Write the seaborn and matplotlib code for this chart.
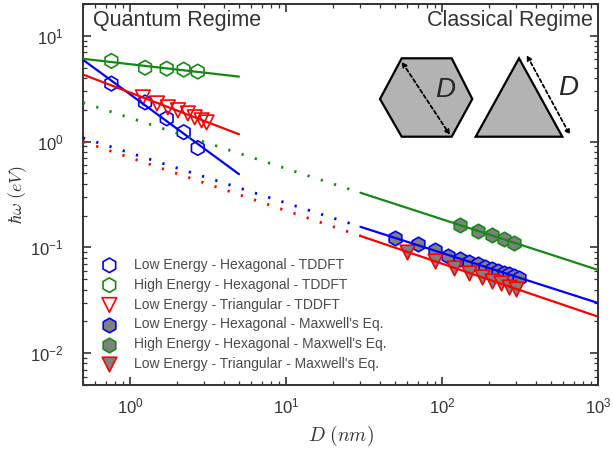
import numpy as np
import pandas as pd
import matplotlib
matplotlib.use("Agg")
import matplotlib.pyplot as plt
import seaborn as sns
from matplotlib.patches import Polygon

# ---- data (D in nm, energy in eV) ----
d_hex_tddft = [0.76, 1.25, 1.72, 2.21, 2.72]
e_low_hex_tddft = [3.54, 2.35, 1.66, 1.23, 0.87]
e_high_hex_tddft = [5.8, 5.0, 4.9, 4.8, 4.6]

d_tri_tddft = [1.21, 1.49, 1.75, 2.03, 2.35, 2.60, 2.88, 3.10]
e_low_tri_tddft = [2.62, 2.30, 2.11, 1.98, 1.85, 1.70, 1.59, 1.52]

d_low_hex_max = [50, 70, 90, 110, 130, 150, 170, 190, 210, 230, 250, 270, 290, 310]
e_low_hex_max = [0.123, 0.1066, 0.0937, 0.0828, 0.0771, 0.0728, 0.0692, 0.0659,
                 0.0631, 0.0599, 0.0578, 0.0557, 0.0538, 0.0512]

d_high_hex_max = [130, 170, 210, 250, 290]
e_high_hex_max = [0.162, 0.1445, 0.1297, 0.1189, 0.1107]

d_tri_max = [60, 90, 120, 150, 180, 210, 240, 270, 300]
e_tri_max = [0.0908, 0.0740, 0.0643, 0.0571, 0.0523, 0.0484, 0.0459, 0.0426, 0.0403]

# fit ranges
tddft_range = (0.5, 5)
classical_range = (30, 1000)
extrap_range = (0.5, 30)

BLUE, GREEN, RED = "#0000ff", "#138a13", "#ff0000"
GRAY = "#808080"

sns.set_theme(style="ticks")
plt.rcParams["font.family"] = ["Liberation Sans", "DejaVu Sans"]
plt.rcParams["mathtext.fontset"] = "cm"

fig = plt.figure(figsize=(6.13, 4.51), dpi=100)
ax = fig.add_axes([0.1354, 0.1463, 0.8401, 0.8447])
ax.set_xscale("log")
ax.set_yscale("log")


def power_fit(d, e, lo, hi):
    k, b = np.polyfit(np.log10(d), np.log10(e), 1)
    xs = np.geomspace(lo, hi, 50)
    return pd.DataFrame({"D": xs, "E": 10 ** (b + k * np.log10(xs))})


# markers
open_kw = dict(facecolors="none", linewidth=1.2, s=110, zorder=3)
sns.scatterplot(x=d_hex_tddft, y=e_low_hex_tddft, marker="h", edgecolor=BLUE,
                label="Low Energy - Hexagonal - TDDFT", ax=ax, **open_kw)
sns.scatterplot(x=d_hex_tddft, y=e_high_hex_tddft, marker="h", edgecolor=GREEN,
                label="High Energy - Hexagonal - TDDFT", ax=ax, **open_kw)
sns.scatterplot(x=d_tri_tddft, y=e_low_tri_tddft, marker="v", edgecolor=RED,
                label="Low Energy - Triangular - TDDFT", ax=ax, **open_kw)

fill_kw = dict(color=GRAY, linewidth=1.2, s=110, zorder=3)
sns.scatterplot(x=d_low_hex_max, y=e_low_hex_max, marker="h", edgecolor=BLUE,
                label="Low Energy - Hexagonal - Maxwell's Eq.", ax=ax, **fill_kw)
sns.scatterplot(x=d_high_hex_max, y=e_high_hex_max, marker="h", edgecolor=GREEN,
                label="High Energy - Hexagonal - Maxwell's Eq.", ax=ax, **fill_kw)
sns.scatterplot(x=d_tri_max, y=e_tri_max, marker="v", edgecolor=RED,
                label="Low Energy - Triangular - Maxwell's Eq.", ax=ax, **fill_kw)

# fit lines
for d, e, c in [(d_hex_tddft, e_low_hex_tddft, BLUE),
                (d_hex_tddft, e_high_hex_tddft, GREEN),
                (d_tri_tddft, e_low_tri_tddft, RED)]:
    f = power_fit(d, e, *tddft_range)
    sns.lineplot(data=f, x="D", y="E", color=c, lw=1.6, ax=ax, zorder=4, legend=False)

for d, e, c in [(d_low_hex_max, e_low_hex_max, BLUE),
                (d_high_hex_max, e_high_hex_max, GREEN),
                (d_tri_max, e_tri_max, RED)]:
    f = power_fit(d, e, *classical_range)
    sns.lineplot(data=f, x="D", y="E", color=c, lw=1.6, ax=ax, zorder=4, legend=False)
    f2 = power_fit(d, e, *extrap_range)
    sns.lineplot(data=f2, x="D", y="E", color=c, lw=2.0, ls=(0, (0.8, 4.2)),
                 ax=ax, zorder=4, legend=False)

ax.set_xlim(0.5, 1000)
ax.set_ylim(0.005, 20)
ax.set_xlabel(r"$D\ (nm)$", fontsize=14, color="#333333", labelpad=6)
ax.set_ylabel(r"$\hbar\omega\ (eV)$", fontsize=13, color="#333333", labelpad=1)
ax.tick_params(which="both", direction="in", top=True, right=True,
               labelsize=12, colors="#333333")
ax.tick_params(which="major", length=6, width=1.2)
ax.tick_params(axis="x", which="major", pad=8)
ax.tick_params(axis="y", which="major", pad=14)
ax.tick_params(which="minor", length=3, width=0.9)
for sp in ax.spines.values():
    sp.set_color("#333333")
    sp.set_linewidth(1.4)

ax.text(0.02, 0.985, "Quantum Regime", transform=ax.transAxes, fontsize=15.5,
        color="#333333", ha="left", va="top")
ax.text(0.99, 0.985, "Classical Regime", transform=ax.transAxes, fontsize=15.5,
        color="#333333", ha="right", va="top")

leg = ax.legend(loc="lower left", bbox_to_anchor=(0.008, 0.0), frameon=False,
                fontsize=10, handlelength=1.2, handletextpad=1.2,
                labelspacing=0.42, borderaxespad=0.6)
for t in leg.get_texts():
    t.set_color("#4a4a4a")

# shape sketches (pixel overlay)
ov = fig.add_axes([0, 0, 1, 1])
ov.set_xlim(0, 613)
ov.set_ylim(451, 0)
ov.axis("off")
hexagon = [(380, 99), (401.7, 58.3), (451.7, 58.3), (472.3, 99), (451.7, 136.7), (401.7, 136.7)]
triangle = [(519, 58.3), (475.7, 136.7), (562.3, 136.7)]
for pts in (hexagon, triangle):
    ov.add_patch(Polygon(pts, closed=True, facecolor="#b3b3b3",
                         edgecolor="black", lw=1.6))
for a, b in [((401.7, 61.7), (450, 135)), ((526.7, 55), (570, 135))]:
    ov.annotate("", xy=b, xytext=a,
                arrowprops=dict(arrowstyle="<|-|>", ls=(0, (2, 1.5)), lw=1.3,
                                color="black", mutation_scale=7, shrinkA=0, shrinkB=0))
ov.text(445, 90, "D", fontsize=20, style="italic", ha="center", va="center")
ov.text(568, 88, "D", fontsize=20, style="italic", ha="center", va="center")

fig.savefig("out.png", dpi=100)
